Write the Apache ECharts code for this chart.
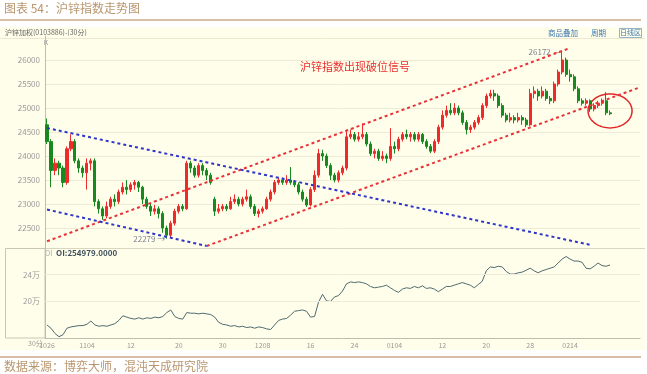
<!DOCTYPE html>
<html><head><meta charset="utf-8">
<script src="https://cdn.jsdelivr.net/npm/echarts@6/dist/echarts.min.js"></script>
<style>html,body{margin:0;padding:0;background:#fff}#wrap{position:relative;width:647px;height:374px}
#cream{position:absolute;left:0;top:27px;width:645px;height:323px;background:#fffeea}
#c{position:absolute;left:0;top:0;width:647px;height:374px}</style>
</head><body><div id="wrap"><div id="cream"></div><div id="c"></div></div>
<script>
// ---- data (30-minute bars) ----
const opens = [24650,24300,23700,23850,23750,23450,24150,24300,23900,23750,23650,23850,23900,23050,22900,22750,22950,23100,23050,23250,
23350,23300,23400,23450,23350,23100,22950,22850,22900,22800,22500,22350,22600,22850,22950,22900,23850,23750,23600,23800,
23700,23600,23100,22850,22900,22950,22900,23050,23100,23000,23100,23150,22950,22800,22850,22900,23100,23250,23450,23500,
23450,23500,23450,23400,23250,23100,22980,23300,23600,24050,24000,23800,23600,23500,23650,23750,24400,24450,24350,24400,
24450,24250,24050,24100,23950,24000,23950,24200,24150,24350,24450,24400,24450,24350,24450,24300,24200,24100,24300,24600,
24850,24950,24900,25000,24900,24700,24550,24600,24700,24800,25050,25250,25300,25250,25050,24850,24750,24800,24750,24800,
24750,24650,25300,25350,25250,25350,25200,25150,25500,25750,26000,25700,25650,25400,25150,25100,25150,24980,25050,25100,
25150,24900];
const closes = [24300,23700,23850,23750,23450,24150,24300,23900,23750,23650,23850,23900,23050,22900,22750,22950,23100,23050,23250,23350,
23300,23400,23450,23350,23100,22950,22850,22900,22800,22500,22350,22600,22850,22950,22900,23850,23750,23600,23800,23700,
23600,23450,22850,22900,22950,22900,23050,23100,23000,23100,23150,22950,22800,22850,22900,23100,23250,23450,23500,23450,
23500,23450,23400,23250,23100,22980,23300,23600,24050,24000,23800,23600,23500,23650,23750,24400,24450,24350,24400,24450,
24250,24050,24100,23950,24000,23950,24200,24150,24350,24450,24400,24450,24350,24450,24300,24200,24100,24300,24600,24850,
24950,24900,25000,24900,24700,24550,24600,24700,24800,25050,25250,25300,25250,25050,24850,24750,24800,24750,24800,24750,
24650,25300,25350,25250,25350,25200,25150,25500,25750,26000,25700,25650,25400,25150,25100,25150,24980,25050,25100,25150,
24900,24880];
const lows = [24250,23350,23600,23600,23350,23400,24100,23850,23650,23550,23300,23700,22950,22800,22670,22700,22900,22950,23000,23200,
23200,23250,23300,23250,23000,22900,22750,22780,22700,22400,22279,22300,22550,22800,22850,22880,23650,23550,23550,23600,
23500,23400,22750,22800,22850,22850,22880,23000,22950,22950,23050,22900,22750,22720,22800,22880,23050,23200,23400,23400,
23400,23400,23350,23200,23050,22940,22950,23250,23550,23900,23750,23500,23450,23450,23600,23700,24350,24300,24300,24350,
24200,24000,23950,23900,23900,23850,23900,24050,24100,24300,24350,24300,24300,24300,24250,24150,24060,24060,24250,24550,
24800,24850,24850,24850,24650,24450,24480,24550,24650,24750,25000,25200,25150,25000,24800,24700,24700,24680,24700,24650,
24600,24620,25200,25150,25200,25150,25080,25100,25450,25700,25650,25550,25350,25100,25050,25050,24920,24930,25000,25050,
24850,24850];
const highs = [24780,24350,23950,23900,23800,24200,24450,24350,23950,23800,23950,23950,23950,23100,22950,23050,23150,23200,23300,23450,
23500,23450,23500,23480,23380,23150,23000,22980,22950,22850,22550,22650,22900,23000,23000,23900,23900,23800,23850,23850,
23750,23650,23150,23000,23000,23000,23150,23200,23150,23150,23300,23200,23000,22900,22950,23150,23300,23500,23550,23550,
23600,23770,23500,23450,23300,23150,23350,23700,24150,24130,24050,23850,23650,23700,23800,24550,24550,24500,24500,24680,
24500,24300,24150,24150,24100,24050,24580,24300,24400,24500,24550,24500,24500,24500,24480,24350,24250,24350,24650,24950,
25050,25100,25100,25050,24950,24750,24650,24750,24850,25100,25300,25380,25380,25300,25100,24900,24900,24850,24900,24850,
24800,25400,25450,25400,25450,25400,25250,25550,25800,26172,26050,25800,25700,25450,25200,25200,25180,25100,25150,25200,
25330,24950];
const openInterest = [163000,158000,150000,145000,148000,158000,160000,161000,162000,162000,164000,169000,163000,161000,162000,161000,163000,165000,170000,177000,
175000,173000,172000,174000,172000,174000,173000,175000,174000,176000,182000,186000,176000,173000,172000,182000,181000,181000,180000,181000,
180000,179000,175000,167000,164000,163000,161000,162000,160000,161000,159000,160000,158000,160000,159000,157000,156000,163000,170000,172000,
173000,178000,184000,185000,186000,184000,175000,176000,198000,210000,200000,199000,206000,208000,215000,226000,229000,228000,229000,228000,
226000,222000,220000,221000,222000,224000,220000,216000,213000,218000,220000,219000,222000,220000,223000,219000,220000,218000,214000,218000,
222000,222000,224000,226000,228000,226000,224000,220000,225000,230000,246000,252000,251000,253000,252000,245000,241000,241000,243000,244000,
247000,250000,246000,243000,246000,248000,250000,252000,258000,264000,268000,264000,261000,261000,259000,250000,249000,253000,258000,254000,
253000,255000];
const categoryCount = 149;               // slots on the time axis (last ones empty)
const xTickIndex  = [0,10,21,33,44,54,66,77,87,99,110,121,131];
const xTickLabels = ['1026','1104','12','20','30','1208','16','24','0104','12','20','28','0214'];
const oiTickValues = [200000, 240000];
const oiTickLabels = ['20万', '24万'];
// trend lines in data space: [startIndex, startPrice, endIndex, endPrice]
const redChannelUpper = [0, 22223, 131, 26250];
const redChannelLower = [40, 22125, 148, 25417];
const blueChannelUpper = [0, 24583, 136, 22150];
const blueChannelLower = [0, 22885, 40, 22125];
const breakZone = [141, 24940];          // centre of the circled area (index, price)

// ---- chart ----
const categories = Array.from({length: categoryCount}, (_, i) => String(i));
const kData = opens.map((o, i) => [o, closes[i], lows[i], highs[i]]);
const labelAt = {};
xTickIndex.forEach((idx, k) => { labelAt[idx] = xTickLabels[k]; });
const FONT = 'Noto Sans CJK SC, Noto Sans, sans-serif';
const RED = '#f02a2a', GREEN = '#178a1f';
function seg(a, color) {
  return [{coord: [a[0], a[1]], lineStyle: {color: color}}, {coord: [a[2], a[3]]}];
}

const chart = echarts.init(document.getElementById('c'), null, {renderer: 'canvas'});
const option = {
  animation: false,
  textStyle: {fontFamily: FONT},
  grid: [
    {left: 45, right: 7, top: 36, height: 216},
    {left: 45, right: 7, top: 248, height: 90}
  ],
  xAxis: [
    {type: 'category', gridIndex: 0, data: categories, show: false},
    {type: 'category', gridIndex: 1, data: categories,
      axisLine: {lineStyle: {color: '#bdbdb0'}}, axisTick: {show: false},
      axisLabel: {interval: (idx) => labelAt[idx] !== undefined,
        formatter: (v, idx) => labelAt[idx] || '', color: '#999', fontSize: 7, margin: 4, hideOverlap: false}}
  ],
  yAxis: [
    {type: 'value', gridIndex: 0, min: 22000, max: 26500, interval: 500,
      axisLine: {show: true, lineStyle: {color: '#bdbdb0'}}, axisTick: {show: false},
      axisLabel: {color: '#9a9a9a', fontSize: 8, margin: 5, showMinLabel: false, showMaxLabel: false,
        formatter: (v) => String(v)},
      splitLine: {show: true, showMinLine: false, showMaxLine: false, lineStyle: {color: '#eeecd6'}}},
    {type: 'value', gridIndex: 1, min: 143000, max: 281000,
      axisLine: {show: true, lineStyle: {color: '#bdbdb0'}}, axisTick: {show: false},
      axisLabel: {show: false}, splitLine: {show: false}}
  ],
  series: [
    {type: 'candlestick', xAxisIndex: 0, yAxisIndex: 0, data: kData, barWidth: 2.6,
      itemStyle: {color: RED, color0: GREEN, borderColor: RED, borderColor0: GREEN, borderWidth: 1},
      markLine: {silent: true, symbol: ['none', 'none'], label: {show: false},
        lineStyle: {type: [3, 3], width: 2},
        data: [seg(redChannelUpper, '#e8323a'), seg(redChannelLower, '#e8323a'),
               seg(blueChannelUpper, '#2f35c8'), seg(blueChannelLower, '#2f35c8')]},
      markPoint: {silent: true, symbol: 'circle', symbolSize: 1, itemStyle: {color: 'rgba(0,0,0,0)'},
        data: [
          {type: 'min', valueDim: 'lowest', label: {show: true, position: 'left', distance: 1,
            formatter: (p) => String(p.value) + ' →', color: '#7a8090', fontSize: 8}},
          {type: 'max', valueDim: 'highest', label: {show: true, position: 'left', distance: 1,
            formatter: (p) => '{v|' + String(p.value) + '} {a|—}',
            rich: {v: {color: '#7a8090', fontSize: 8}, a: {color: '#e02020', fontSize: 8}}}}
        ]}
    },
    {type: 'line', xAxisIndex: 1, yAxisIndex: 1, data: openInterest, showSymbol: false,
      lineStyle: {color: '#4e6a72', width: 1},
      markLine: {silent: true, symbol: ['none', 'none'],
        lineStyle: {type: 'solid', color: '#eeecd6', width: 1},
        label: {position: 'start', color: '#9a9a9a', fontSize: 8, distance: 5},
        data: oiTickValues.map((v, k) => ({yAxis: v, label: {formatter: oiTickLabels[k]}}))}
    }
  ]
};
chart.setOption(option);

const c = chart.convertToPixel({xAxisIndex: 0, yAxisIndex: 0}, breakZone);
const ell = [];
for (let k = 0; k < 72; k++) {
  const t = k / 72 * Math.PI * 2;
  ell.push([c[0] + 22 * Math.cos(t), c[1] + 17 * Math.sin(t)]);
}
chart.setOption({graphic: [
  {type: 'text', left: 4, top: 2, style: {text: '图表 54：沪锌指数走势图', fill: '#b9966f', font: '12px ' + FONT}},
  {type: 'line', shape: {x1: 0, y1: 20, x2: 641, y2: 20}, style: {stroke: '#c9a98a', lineWidth: 1.5}},
  {type: 'text', x: 5, y: 29, style: {text: '沪锌加权(0103886)-(30分)', fill: '#666', font: '7px ' + FONT}},
  {type: 'text', x: 548, y: 29, style: {text: '商品叠加', fill: '#3a78b0', font: '7.5px ' + FONT}},
  {type: 'text', x: 591, y: 29, style: {text: '周期', fill: '#3a78b0', font: '7.5px ' + FONT}},
  {type: 'rect', shape: {x: 619.5, y: 28.5, width: 22, height: 9}, style: {fill: 'none', stroke: '#7aa0c0', lineWidth: 0.8}},
  {type: 'text', x: 620, y: 29, style: {text: '日线区', fill: '#3a78b0', font: '7px ' + FONT}},
  {type: 'line', shape: {x1: 0, y1: 38.5, x2: 645, y2: 38.5}, style: {stroke: '#ebe8cf', lineWidth: 1}},
  {type: 'text', x: 44, y: 40, style: {text: 'K', fill: '#777', font: '6px ' + FONT}},
  {type: 'text', x: 300, y: 61, style: {text: '沪锌指数出现破位信号', fill: '#e83030', font: '11px ' + FONT}},
  {type: 'polygon', shape: {points: ell}, style: {fill: 'none', stroke: '#e02828', lineWidth: 1.5}},
  {type: 'line', shape: {x1: 45, y1: 248.5, x2: 645, y2: 248.5}, style: {stroke: '#d9d6c0', lineWidth: 1}},
  {type: 'rect', shape: {x: 5.5, y: 248.5, width: 39.5, height: 89.5}, style: {fill: 'none', stroke: '#c9c7b6', lineWidth: 1}},
  {type: 'text', x: 45, y: 250, style: {text: 'OI', fill: '#aaa', font: '7px ' + FONT}},
  {type: 'text', x: 56, y: 249, style: {text: 'OI:254979.0000', fill: '#40505c', font: 'bold 8px ' + FONT}},
  {type: 'text', x: 28, y: 340, style: {text: '30分', fill: '#999', font: '7px ' + FONT}},
  {type: 'line', shape: {x1: 0, y1: 357, x2: 641, y2: 357}, style: {stroke: '#c9a98a', lineWidth: 1.5}},
  {type: 'text', left: 4, top: 360, style: {text: '数据来源：博弈大师，混沌天成研究院', fill: '#b9966f', font: '12px ' + FONT}}
]});
</script></body></html>
